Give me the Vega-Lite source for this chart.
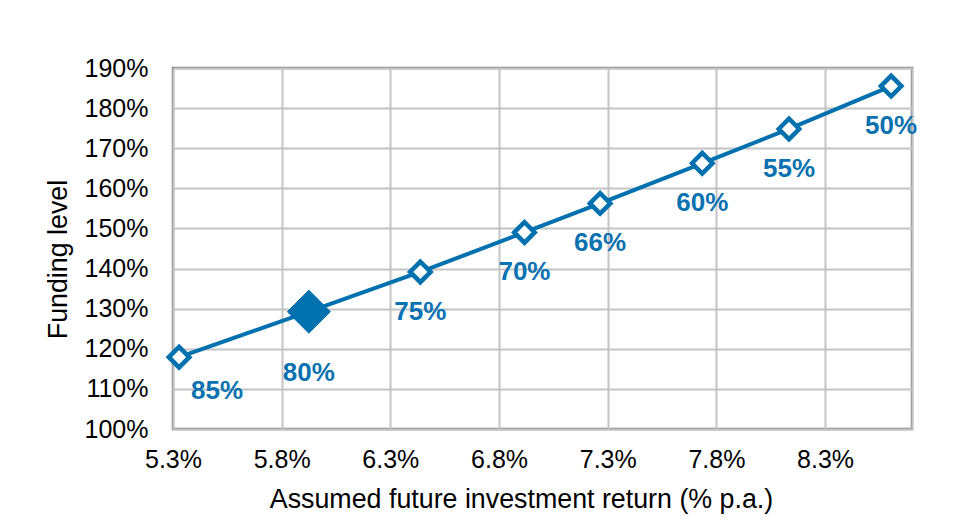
{
  "$schema": "https://vega.github.io/schema/vega-lite/v6.json",
  "autosize": "none",
  "width": 739,
  "height": 361,
  "padding": {"left": 173, "top": 68, "right": 55, "bottom": 96},
  "background": "white",
  "config": {
    "font": "Liberation Sans",
    "view": {"stroke": "#808080", "strokeWidth": 2.5},
    "axis": {
      "labelFont": "Liberation Sans",
      "titleFont": "Liberation Sans",
      "labelColor": "#000000",
      "titleColor": "#000000",
      "labelFontSize": 25,
      "titleFontSize": 26.8,
      "titleFontWeight": "normal",
      "gridColor": "#c4c4c4",
      "gridWidth": 2,
      "gridOpacity": 1,
      "domain": false,
      "ticks": false
    }
  },
  "data": {
    "values": [
      {"ret": 5.328, "fl": 117.9, "label": "85%", "current": false},
      {"ret": 5.925, "fl": 129.25, "label": "80%", "current": true},
      {"ret": 6.438, "fl": 139.15, "label": "75%", "current": false},
      {"ret": 6.917, "fl": 149.0, "label": "70%", "current": false},
      {"ret": 7.265, "fl": 156.25, "label": "66%", "current": false},
      {"ret": 7.735, "fl": 166.25, "label": "60%", "current": false},
      {"ret": 8.134, "fl": 174.8, "label": "55%", "current": false},
      {"ret": 8.604, "fl": 185.5, "label": "50%", "current": false}
    ]
  },
  "encoding": {
    "x": {
      "field": "ret",
      "type": "quantitative",
      "scale": {"domain": [5.3, 8.7], "nice": false, "zero": false},
      "axis": {
        "values": [5.3, 5.8, 6.3, 6.8, 7.3, 7.8, 8.3, 8.7],
        "labelExpr": "datum.value > 8.5 ? '' : format(datum.value, '.1f') + '%'",
        "labelPadding": 18,
        "title": "Assumed future investment return (% p.a.)",
        "titlePadding": 14,
        "titleX": 348,
        "labelFlush": false,
        "labelOverlap": false
      }
    },
    "y": {
      "field": "fl",
      "type": "quantitative",
      "scale": {"domain": [100, 190], "nice": false, "zero": false},
      "axis": {
        "values": [100, 110, 120, 130, 140, 150, 160, 170, 180, 190],
        "labelExpr": "datum.value + '%'",
        "labelPadding": 25,
        "title": "Funding level",
        "titlePadding": 12,
        "titleY": 191,
        "labelOverlap": false
      }
    }
  },
  "layer": [
    {"mark": {"type": "line", "color": "#0070AF", "strokeWidth": 4}},
    {
      "transform": [{"filter": "!datum.current"}],
      "mark": {"type": "point", "shape": "diamond", "size": 420, "filled": true, "fill": "white", "stroke": "#0070AF", "strokeWidth": 4.5, "opacity": 1}
    },
    {
      "transform": [{"filter": "datum.current"}],
      "mark": {"type": "point", "shape": "diamond", "size": 1850, "filled": true, "fill": "#0070AF", "stroke": "#0070AF", "strokeWidth": 1, "opacity": 1}
    },
    {
      "transform": [{"filter": "datum.label != '85%' && datum.label != '80%'"}],
      "mark": {"type": "text", "color": "#0A72B0", "fontWeight": "bold", "fontSize": 26, "dy": 40, "baseline": "middle", "align": "center"},
      "encoding": {"text": {"field": "label"}}
    },
    {
      "transform": [{"filter": "datum.label == '85%'"}],
      "mark": {"type": "text", "color": "#0A72B0", "fontWeight": "bold", "fontSize": 26, "dx": 38, "dy": 34, "baseline": "middle", "align": "center"},
      "encoding": {"text": {"field": "label"}}
    },
    {
      "transform": [{"filter": "datum.label == '80%'"}],
      "mark": {"type": "text", "color": "#0A72B0", "fontWeight": "bold", "fontSize": 26, "dy": 61, "baseline": "middle", "align": "center"},
      "encoding": {"text": {"field": "label"}}
    }
  ]
}
